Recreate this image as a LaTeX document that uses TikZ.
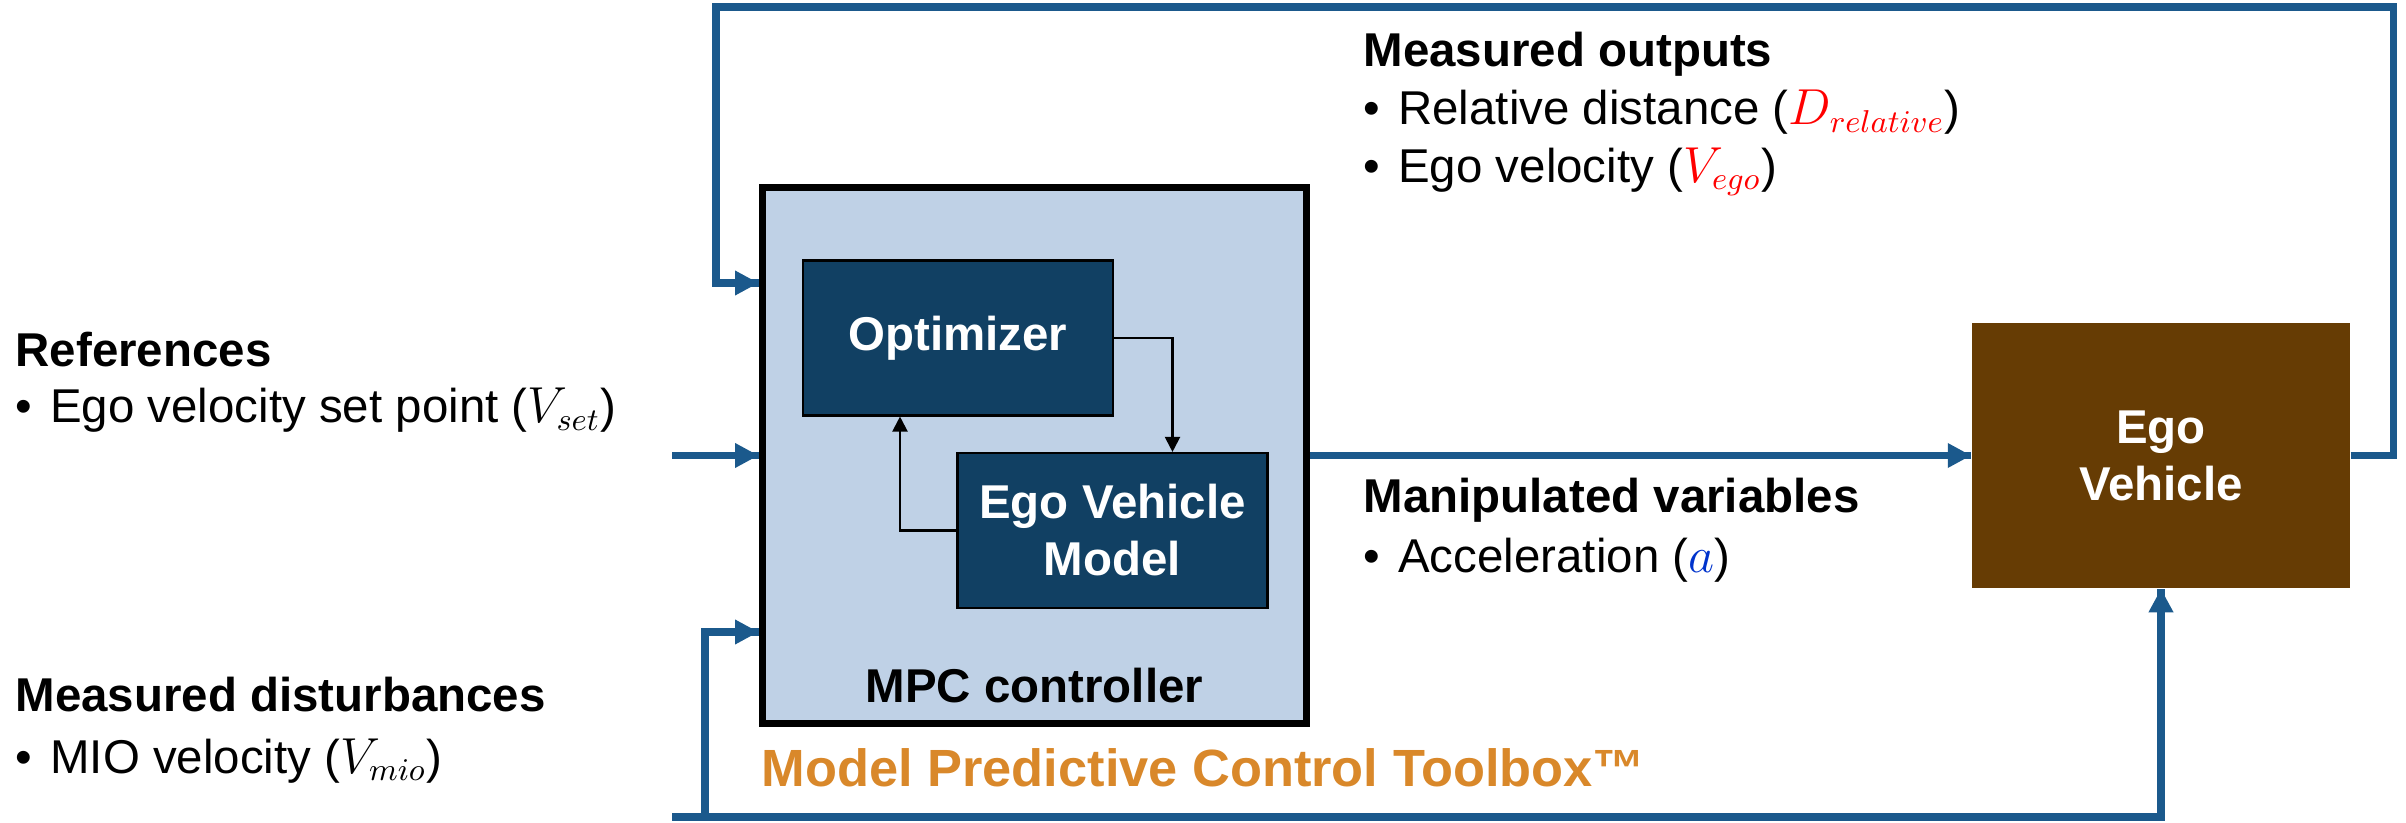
\documentclass[tikz,border=0pt]{standalone}
\usepackage{fontspec}
\setmainfont{Liberation Sans}
\usetikzlibrary{arrows.meta}
\usetikzlibrary{decorations.markings}
\usetikzlibrary{positioning}
\definecolor{flowblue}{RGB}{27,89,140}
\definecolor{mpcfill}{RGB}{191,209,230}
\definecolor{navy}{RGB}{17,64,99}
\definecolor{vehbrown}{RGB}{102,60,4}
\definecolor{tbxorange}{RGB}{217,136,42}
\definecolor{accblue}{RGB}{0,51,204}
\tikzset{flow/.style = {draw = flowblue, line width = 2.1pt,
                        decoration={markings,
                                    mark=at position 1 with {\arrow[color = flowblue]{Triangle[length=6.7pt, width=6.6pt]}}},
                        postaction={decorate}}}
\tikzset{sig/.style = {draw, line width = 0.6pt, -{Triangle[length=4.3pt, width=4.3pt]}}}
\tikzset{block/.style = {draw, fill = navy, text = white, font = \bfseries, line width = 0.6pt,
                         minimum width = 3.1cm, minimum height = 1.55cm, align = center}}
\tikzset{lbl/.style = {anchor = base west, inner sep = 0}}
\newcommand{\bul}{\textbullet\hspace{0.38em}}

\begin{document}
\fontsize{13.5}{16.2}\selectfont
\begin{tikzpicture}
      \useasboundingbox (0, 0) rectangle (24.06, 8.22);

      \node [draw, fill = mpcfill, line width = 2.2pt, minimum width = 5.44cm, minimum height = 5.36cm] (mpc) at (10.345, 3.665) {};
      \node [block] (opt) at (9.58, 4.84) {Optimizer};
      \node [block] (evm) at (11.125, 2.915) {Ego Vehicle\\Model};
      \node [anchor = base, inner sep = 0, font = \bfseries] (mpclbl) at (10.345, 1.20) {MPC controller};
      \node [fill = vehbrown, text = white, font = \bfseries, align = center,
             minimum width = 3.78cm, minimum height = 2.65cm] (ego) at (21.61, 3.665) {Ego\\Vehicle};

      \draw [sig] (opt.east) -| ([xshift = 0.6cm] evm.north);
      \draw [sig] (evm.west) -| ([xshift = -0.58cm] opt.south);

      \coordinate (refin) at (6.72, 3.665);
      \coordinate (mdin) at (6.72, 0.05);
      \coordinate (tap) at (7.05, 0.05);
      \draw [flow] (refin) -- (mpc.west);
      \draw [flow] (mdin) -| (ego.south);
      \draw [flow] (tap) |- ([yshift = -1.765cm] mpc.west);
      \draw [flow] (mpc.east) -- (ego.west);
      \draw [flow] (ego.east) -- ++(0.43, 0) |- (7.16, 8.15) |- ([yshift = 1.725cm] mpc.west);

      \node [lbl, font = \bfseries] (refhead) at (0.15, 4.55) {References};
      \node [lbl] (reftxt) at (0.15, 3.99) {\bul Ego velocity set point ($V_{set}$)};
      \node [lbl, font = \bfseries] (mdhead) at (0.15, 1.11) {Measured disturbances};
      \node [lbl] (mdtxt) at (0.15, 0.49) {\bul MIO velocity ($V_{mio}$)};

      \node [lbl, font = \bfseries] (mohead) at (13.63, 7.55) {Measured outputs};
      \node [lbl] (motxt1) at (13.63, 6.97) {\bul Relative distance ({\color{red}$D_{relative}$})};
      \node [lbl] (motxt2) at (13.63, 6.40) {\bul Ego velocity ({\color{red}$V_{ego}$})};
      \node [lbl, font = \bfseries] (mvhead) at (13.63, 3.09) {Manipulated variables};
      \node [lbl] (mvtxt) at (13.63, 2.50) {\bul Acceleration ({\color{accblue}$a$})};

      \node [lbl, font = \fontsize{14.9}{18}\selectfont\bfseries, text = tbxorange] (tbx) at (7.61, 0.35) {Model Predictive Control Toolbox™};
\end{tikzpicture}
\end{document}
